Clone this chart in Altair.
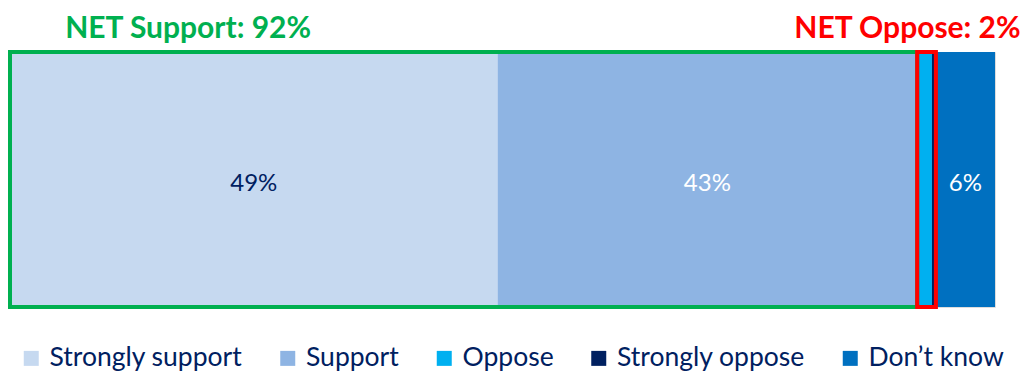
import altair as alt
import pandas as pd

categories = ["Strongly support", "Support", "Oppose", "Strongly oppose", "Don\u2019t know"]
values = [49.5, 42.6, 1.5, 0.4, 6.0]
labels = ["49%", "43%", "", "", "6%"]
colors = ["#C6D9F0", "#8EB4E3", "#00B0F0", "#002060", "#0070C0"]
label_colors = ["#002060", "#FFFFFF", "#FFFFFF", "#FFFFFF", "#FFFFFF"]

net_labels = ["NET Support: 92%", "NET Oppose: 2%"]
net_groups = [["Strongly support", "Support"], ["Oppose", "Strongly oppose"]]
net_colors = ["#00B050", "#FF0000"]

starts, ends = [], []
acc = 0.0
for v in values:
    starts.append(acc)
    acc += v
    ends.append(acc)

df = pd.DataFrame({
    "cat": categories, "value": values, "start": starts, "end": ends,
    "mid": [(s + e) / 2 for s, e in zip(starts, ends)],
    "label": labels, "lcolor": label_colors, "row": ["a"] * len(values),
    "order": list(range(len(values))),
})

box_rows = []
for name, grp, col in zip(net_labels, net_groups, net_colors):
    idx = [categories.index(g) for g in grp]
    box_rows.append({"name": name, "start": starts[min(idx)], "end": ends[max(idx)],
                     "color": col, "row": "a"})
boxes = pd.DataFrame(box_rows)

# NET label anchor positions (in % units of the bar axis) and alignment
net_text = pd.DataFrame({
    "name": net_labels,
    "pos": [5.6, 102.6],
    "align": ["left", "right"],
    "color": net_colors,
})

FONT = "Lato"
xscale = alt.Scale(domain=[0, 100], nice=False, zero=True)
yscale = alt.Scale(paddingInner=0, paddingOuter=0)

bars = alt.Chart(df).mark_bar(size=255).encode(
    x=alt.X("start:Q", scale=xscale, axis=None),
    x2="end:Q",
    y=alt.Y("row:N", scale=yscale, axis=None),
    color=alt.Color(
        "cat:N",
        scale=alt.Scale(domain=categories, range=colors),
        legend=alt.Legend(
            orient="none", direction="horizontal", legendX=8, legendY=293,
            title=None, symbolType="square", symbolSize=225, symbolStrokeWidth=0,
            labelFont=FONT, labelFontSize=26.5, labelColor="#002060", labelLimit=0,
            columnPadding=31.5, symbolOffset=0, labelOffset=5, padding=0,
            columns=5,
        ),
    ),
    order="order:Q",
)

text = alt.Chart(df).mark_text(font=FONT, fontSize=24, baseline="middle", dy=4).encode(
    x=alt.X("mid:Q", scale=xscale),
    y=alt.Y("row:N", scale=yscale),
    text="label:N",
    color=alt.Color("lcolor:N", scale=None),
)

box_marks = []
for i, r in boxes.iterrows():
    b = alt.Chart(boxes.iloc[[i]]).mark_bar(
        fillOpacity=0, stroke=r["color"], strokeWidth=4, size=255
    ).encode(
        x=alt.X("start:Q", scale=xscale),
        x2="end:Q",
        y=alt.Y("row:N", scale=yscale),
    )
    box_marks.append(b)

net_marks = []
for i, r in net_text.iterrows():
    t = alt.Chart(net_text.iloc[[i]]).mark_text(
        font=FONT, fontSize=30, fontWeight="bold", align=r["align"],
        baseline="middle", color=r["color"], clip=False,
    ).encode(
        x=alt.X("pos:Q", scale=xscale),
        y=alt.value(-23),
        text="name:N",
    )
    net_marks.append(t)

chart = alt.layer(bars, text, *box_marks, *net_marks).properties(
    width=985, height=255,
    autosize=alt.AutoSizeParams(type="none"),
    padding={"left": 2, "top": 44, "right": 27, "bottom": 65},
).configure_view(stroke=None).configure(background="white")

chart.save("out.html", embed_options={"renderer": "svg", "actions": False})
